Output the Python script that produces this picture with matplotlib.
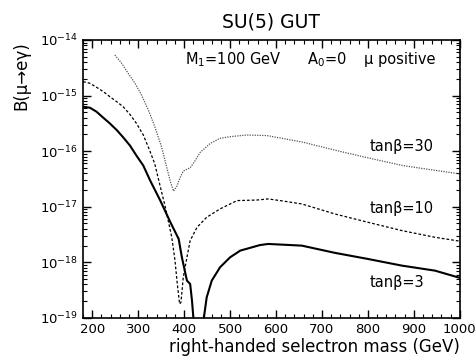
import numpy as np
import matplotlib
matplotlib.use("Agg")
import matplotlib.pyplot as plt
from matplotlib.ticker import MultipleLocator, FixedLocator, NullFormatter

plt.rcParams["font.family"] = ["DejaVu Sans"]
plt.rcParams["mathtext.default"] = "regular"

# selectron mass (GeV) and log10 B(mu -> e gamma) for each tan(beta)
m_tb3 = [180, 195, 209, 224, 238, 253, 267, 282, 296, 311, 326, 348, 370, 388, 395, 406, 413,
         417, 420.5, 442, 449, 460, 478, 500, 522, 565, 583, 656, 728, 800, 874, 946, 1000]
b_tb3 = [-15.20, -15.22, -15.29, -15.40, -15.50, -15.62, -15.75, -15.90, -16.08, -16.26, -16.53,
         -16.89, -17.28, -17.58, -17.91, -18.33, -18.39, -18.69, -19.05, -19.05, -18.63, -18.33,
         -18.09, -17.91, -17.79, -17.69, -17.67, -17.70, -17.83, -17.94, -18.06, -18.15, -18.28]

m_tb10 = [180, 195, 209, 224, 238, 253, 267, 282, 296, 311, 325, 336, 343, 359, 373, 380, 385,
          390, 393, 398, 406, 413, 428, 449, 478, 515, 558, 583, 609, 656, 728, 800, 874, 946, 1000]
b_tb10 = [-14.75, -14.78, -14.85, -14.93, -15.02, -15.11, -15.20, -15.34, -15.50, -15.71, -15.99,
          -16.23, -16.47, -17.01, -17.55, -17.97, -18.39, -18.75, -18.72, -18.27, -17.91, -17.61,
          -17.37, -17.19, -17.04, -16.89, -16.88, -16.86, -16.89, -16.95, -17.13, -17.28, -17.43,
          -17.55, -17.62]

m_tb30 = [249, 264, 278, 293, 307, 322, 336, 351, 362, 370, 377, 384, 391, 398, 405, 413, 424,
          435, 457, 478, 500, 536, 580, 587, 659, 732, 805, 876, 950, 1000]
b_tb30 = [-14.27, -14.42, -14.60, -14.78, -14.99, -15.26, -15.56, -15.93, -16.29, -16.55, -16.72,
          -16.63, -16.48, -16.36, -16.33, -16.30, -16.17, -16.02, -15.86, -15.77, -15.74, -15.71,
          -15.72, -15.73, -15.84, -15.99, -16.13, -16.26, -16.35, -16.41]

curve_labels = ["tanβ=30", "tanβ=10", "tanβ=3"]
label_pos = [(803, -15.92), (803, -17.04), (803, -18.36)]

fig = plt.figure(figsize=(4.75, 3.6), dpi=100)
ax = fig.add_axes([0.175, 0.117, 0.793, 0.772])

ax.plot(m_tb3, 10.0 ** np.array(b_tb3), color="black", lw=1.5, ls="-")
ax.plot(m_tb10, 10.0 ** np.array(b_tb10), color="black", lw=0.9, ls=(0, (2.2, 1.6)))
ax.plot(m_tb30, 10.0 ** np.array(b_tb30), color="#555555", lw=0.9, ls=(0, (1, 1)))

ax.set_yscale("log")
ax.set_xlim(180, 1000)
ax.set_ylim(1e-19, 1e-14)

ax.xaxis.set_major_locator(MultipleLocator(100))
ax.xaxis.set_minor_locator(MultipleLocator(20))
ax.yaxis.set_major_locator(FixedLocator([10.0 ** k for k in range(-19, -13)]))
ax.yaxis.set_minor_locator(FixedLocator([s * 10.0 ** k for k in range(-19, -14) for s in range(2, 10)]))
ax.yaxis.set_minor_formatter(NullFormatter())

ax.tick_params(which="both", direction="in", top=True, right=True, labelsize=9.5)
ax.tick_params(which="major", length=6, width=1.0, pad=4)
ax.tick_params(which="minor", length=3, width=0.8)
for s in ax.spines.values():
    s.set_linewidth(1.2)

for txt, (x, y) in zip(curve_labels, label_pos):
    ax.text(x, 10.0 ** y, txt, fontsize=10.5, ha="left", va="center")

ax.text(0.27, 0.93, "M$_1$=100 GeV", transform=ax.transAxes, fontsize=10.5, ha="left", va="center")
ax.text(0.595, 0.93, "A$_0$=0", transform=ax.transAxes, fontsize=10.5, ha="left", va="center")
ax.text(0.745, 0.93, "μ positive", transform=ax.transAxes, fontsize=10.5, ha="left", va="center")

fig.text(0.571, 0.94, "SU(5) GUT", fontsize=13.5, ha="center", va="center")
ax.set_xlabel("right-handed selectron mass (GeV)", fontsize=12, loc="right", labelpad=1)
fig.text(0.044, 0.79, "B(μ→eγ)", rotation=90, fontsize=12, ha="center", va="center")

fig.savefig("out.png", dpi=100)
